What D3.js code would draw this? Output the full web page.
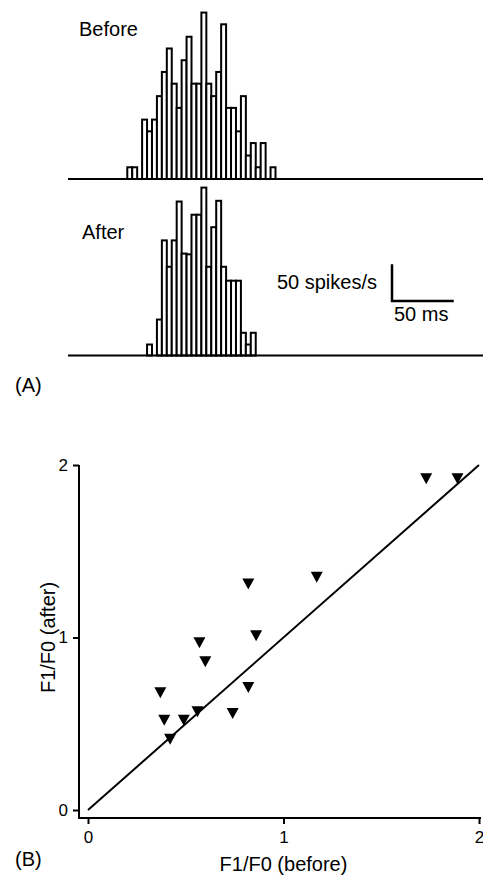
<!DOCTYPE html>
<html>
<head>
<meta charset="utf-8">
<script src="https://cdn.jsdelivr.net/npm/d3@7"></script>
<style>
  html, body { margin: 0; padding: 0; background: #fff; }
  svg { display: block; font-family: "Liberation Sans", Arial, Helvetica, sans-serif; }
</style>
</head>
<body>
<svg id="chart" width="483" height="880"></svg>
<script>
// ---------- Data ----------
// PSTH panels (spikes/s per 4 ms bin)
const binMs = 4;
const beforeStartMs = 48;
const afterStartMs = 64;
const beforeRates = [16,16,0,81,65,81,113,146,178,130,97,162,194,130,130,227,130,113,146,211,97,97,65,113,32,49,16,49,0,16];
const afterRates  = [15,0,49,157,121,157,210,139,138,192,192,229,121,175,211,121,102,102,102,31,15,31];
const panelLabels = ["Before", "After"];
const scaleBarRate = 50;  // spikes/s
const scaleBarTime = 50;  // ms

// Scatter panel
const f1f0Before = [1.73, 1.89, 0.82, 1.17, 0.86, 0.57, 0.60, 0.37, 0.39, 0.49, 0.56, 0.42, 0.74, 0.82];
const f1f0After  = [1.92, 1.92, 1.31, 1.35, 1.01, 0.97, 0.86, 0.68, 0.52, 0.52, 0.57, 0.41, 0.56, 0.71];
const xTicks = [0, 1, 2];
const yTicks = [0, 1, 2];
const unityLine = [[0, 0], [2, 2]];

// ---------- Drawing ----------
const svg = d3.select("#chart");
svg.append("rect").attr("width", 483).attr("height", 880).attr("fill", "#fff");

const tScale = d3.scaleLinear().domain([0, 336]).range([68, 483]);
const binW = tScale(binMs) - tScale(0);

function drawPsth(rates, startMs, baseline, label, labelPos) {
  const yR = d3.scaleLinear().domain([0, 250]).range([baseline, baseline - 183.3]);
  const g = svg.append("g");
  const data = rates.map((r, i) => ({ t: startMs + i * binMs, r }));
  g.selectAll("rect.bar").data(data.filter(d => d.r > 0)).join("rect")
    .attr("class", "bar")
    .attr("x", d => tScale(d.t))
    .attr("y", d => yR(d.r))
    .attr("width", binW)
    .attr("height", d => baseline - yR(d.r))
    .attr("fill", "#fff")
    .attr("stroke", "#000")
    .attr("stroke-width", 2);
  g.append("line")
    .attr("x1", tScale(0)).attr("x2", tScale(336))
    .attr("y1", baseline).attr("y2", baseline)
    .attr("stroke", "#000").attr("stroke-width", 2);
  g.append("text").attr("x", labelPos[0]).attr("y", labelPos[1])
    .attr("font-size", 20).attr("fill", "#000").text(label);
  return yR;
}

drawPsth(beforeRates, beforeStartMs, 179, panelLabels[0], [79, 36]);
const yAfter = drawPsth(afterRates, afterStartMs, 355.5, panelLabels[1], [82, 239]);

// Scale bar
const sbX = 392, sbY = 301;
const sbG = svg.append("g");
const vLen = yAfter(0) - yAfter(scaleBarRate);
const hLen = tScale(scaleBarTime) - tScale(0);
sbG.append("path")
  .attr("d", `M${sbX},${sbY - vLen} L${sbX},${sbY} L${sbX + hLen},${sbY}`)
  .attr("fill", "none").attr("stroke", "#000").attr("stroke-width", 2.5);
sbG.append("text").attr("x", 377).attr("y", 289).attr("text-anchor", "end")
  .attr("font-size", 20).text(scaleBarRate + " spikes/s");
sbG.append("text").attr("x", 394).attr("y", 321)
  .attr("font-size", 20).text(scaleBarTime + " ms");

svg.append("text").attr("x", 15).attr("y", 392).attr("font-size", 20).text("(A)");
svg.append("text").attr("x", 15).attr("y", 866).attr("font-size", 20).text("(B)");

// Scatter
const x = d3.scaleLinear().domain([0, 2]).range([88, 479]);
const y = d3.scaleLinear().domain([0, 2]).range([810, 465]);
const axisX0 = 79, axisY0 = 818;

const yAxis = svg.append("g").attr("transform", `translate(${axisX0},0)`)
  .call(d3.axisLeft(y).tickValues(yTicks).tickFormat(d3.format("d")).tickSize(6).tickPadding(5).tickSizeOuter(0));
yAxis.select(".domain").remove();
yAxis.selectAll("line").attr("stroke-width", 2);
yAxis.selectAll("text").attr("font-size", 17).attr("font-family", "Liberation Sans, Arial, sans-serif").attr("fill", "#000");

const xAxis = svg.append("g").attr("transform", `translate(0,${axisY0})`)
  .call(d3.axisBottom(x).tickValues(xTicks).tickFormat(d3.format("d")).tickSize(6).tickPadding(7).tickSizeOuter(0));
xAxis.select(".domain").remove();
xAxis.selectAll("line").attr("stroke-width", 2);
xAxis.selectAll("text").attr("font-size", 17).attr("font-family", "Liberation Sans, Arial, sans-serif").attr("fill", "#000");

svg.append("path")
  .attr("d", `M${axisX0},${y(2)} L${axisX0},${axisY0} L${x(2) + 2},${axisY0}`)
  .attr("fill", "none").attr("stroke", "#000").attr("stroke-width", 2);

svg.append("path")
  .attr("d", d3.line().x(d => x(d[0])).y(d => y(d[1]))(unityLine))
  .attr("stroke", "#000").attr("stroke-width", 2).attr("fill", "none");

const tri = "M-6,-5.5 L6,-5.5 L0,5.5 Z";
svg.append("g").selectAll("path").data(f1f0Before.map((v, i) => [v, f1f0After[i]])).join("path")
  .attr("d", tri)
  .attr("transform", d => `translate(${x(d[0])},${y(d[1])})`)
  .attr("fill", "#000");

svg.append("text").attr("x", x(1)).attr("y", 871).attr("text-anchor", "middle")
  .attr("font-size", 20).text("F1/F0 (before)");
svg.append("text").attr("transform", `translate(55,${y(1)}) rotate(-90)`)
  .attr("text-anchor", "middle").attr("font-size", 20).text("F1/F0 (after)");
</script>
</body>
</html>
